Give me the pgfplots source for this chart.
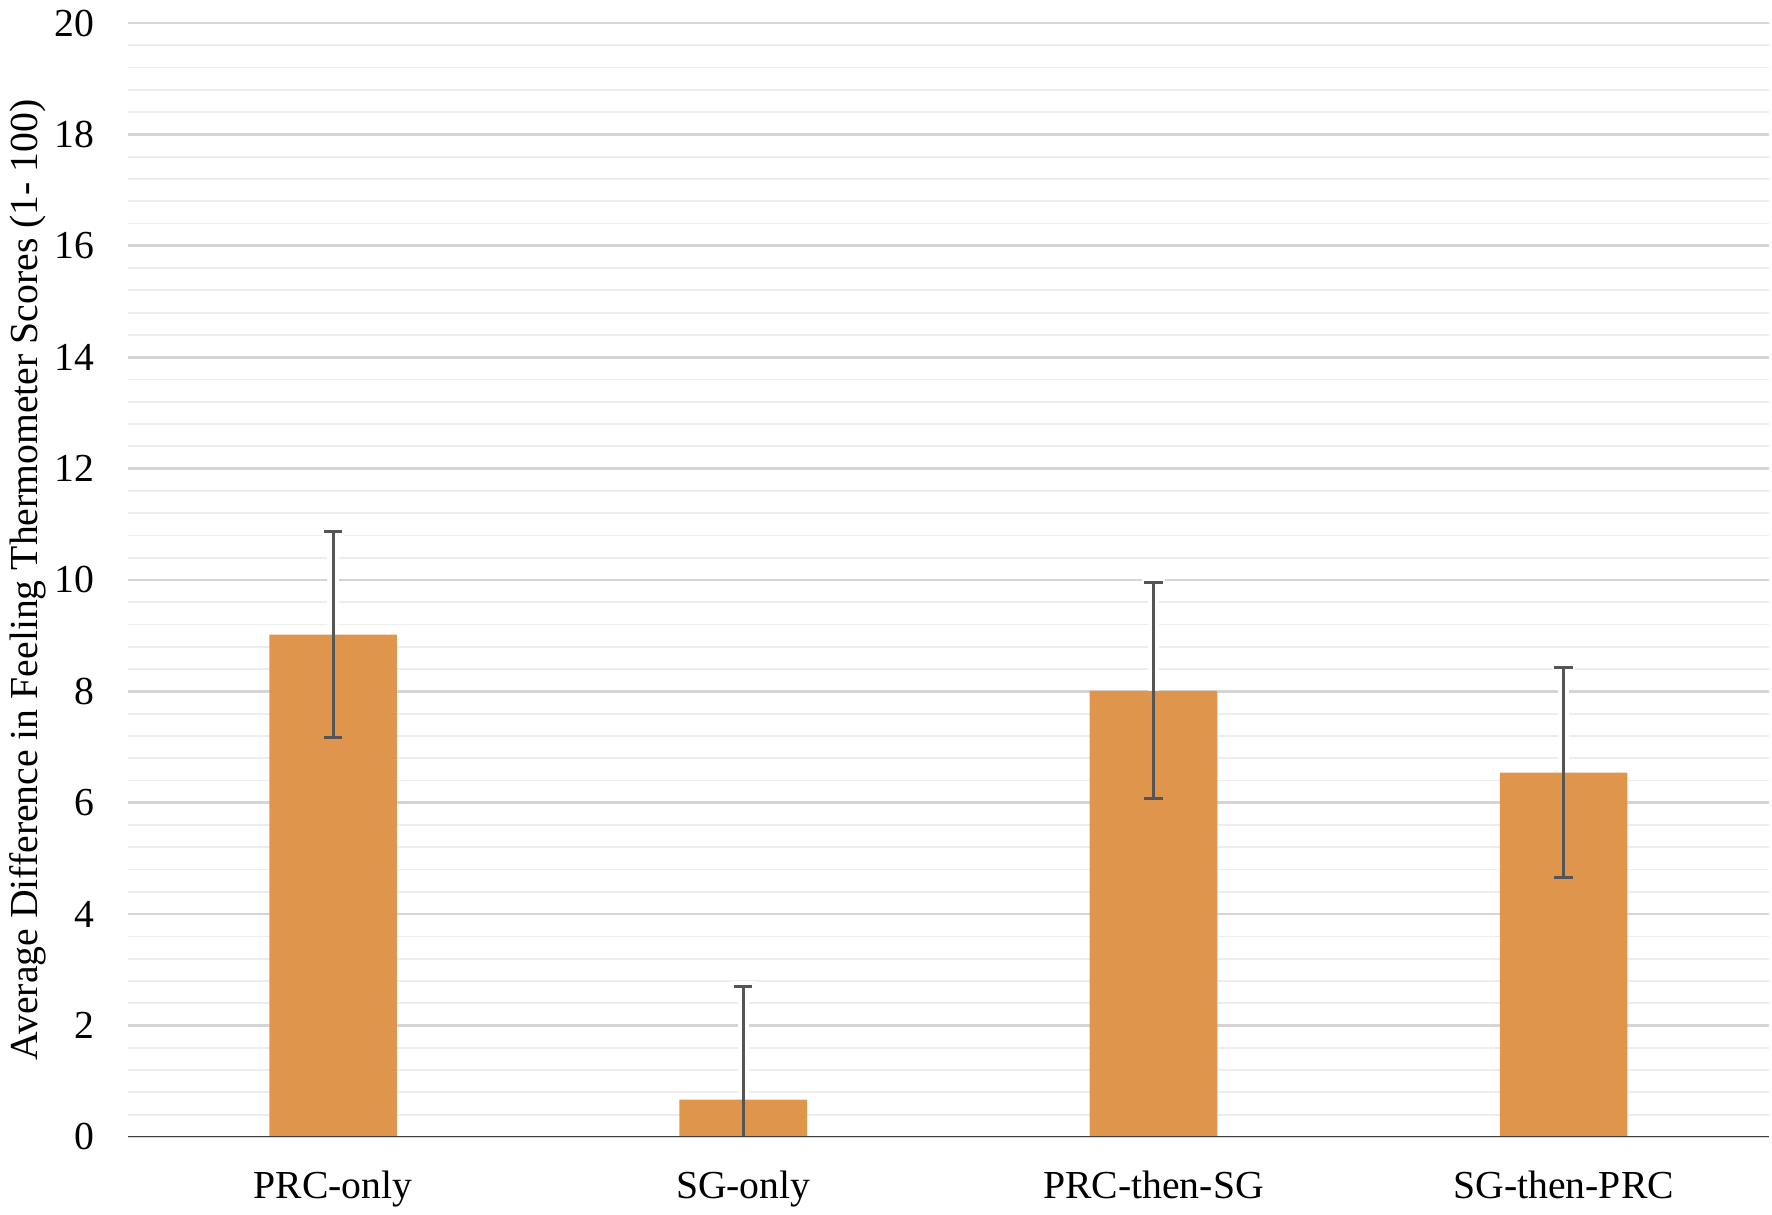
\documentclass[border=0pt]{standalone}
\usepackage{fontspec}
\setmainfont{Liberation Serif}
\usepackage{pgfplots}
\pgfplotsset{compat=1.18}
\definecolor{barorange}{HTML}{E0954C}
\definecolor{errgray}{HTML}{555555}
\definecolor{majgrid}{HTML}{D5D5D5}
\definecolor{mingrid}{HTML}{EDEDED}
\definecolor{axisgray}{HTML}{404040}
\begin{document}
\begin{tikzpicture}
\path[use as bounding box] (-36.1pt,-22pt) rectangle (463.9pt,320.8pt);
\begin{axis}[
  at={(0,0)}, anchor=south west,
  scale only axis, width=463pt, height=314.3pt,
  xmin=-0.5, xmax=3.5, ymin=0, ymax=20,
  xtick={0,1,2,3},
  xticklabels={PRC-only,SG-only,PRC-then-SG,SG-then-PRC},
  ytick={0,2,...,20}, minor y tick num=4,
  ymajorgrids, yminorgrids,
  major grid style={majgrid, line width=0.75pt},
  minor grid style={mingrid, line width=0.5pt},
  axis line style={draw=none},
  tick style={draw=none},
  font=\fontsize{11.2}{13}\selectfont,
  /pgf/number format/assume math mode=true,
  yticklabel style={xshift=-6pt},
  xticklabel style={yshift=-6.2pt},
  ylabel={Average Difference in Feeling Thermometer Scores (1- 100)},
  ylabel style={at={(axis description cs:-0.055,0.5)}, anchor=base},
]
\addplot[draw=none, mark=none, forget plot,
  error bars/.cd, y dir=both, y explicit,
  error bar style={draw=white, line width=3.2pt},
  error mark options={draw=white, rotate=90, mark size=3.2pt, line width=3.2pt}]
  coordinates {(0,9.02) +- (0,1.85) (1,0.67) +- (0,2.03) (2,8.01) +- (0,1.94) (3,6.54) +- (0,1.88)};
\addplot[ybar, mark=none, bar width=36pt, bar shift=0pt, fill=barorange, draw=none,
  error bars/.cd, y dir=both, y explicit,
  error bar style={draw=errgray, line width=0.85pt},
  error mark options={draw=errgray, rotate=90, mark size=2.6pt, line width=0.85pt}]
  coordinates {(0,9.02) +- (0,1.85) (1,0.67) +- (0,2.03) (2,8.01) +- (0,1.94) (3,6.54) +- (0,1.88)};
\draw[axisgray, line width=0.75pt] (rel axis cs:0,0) -- (rel axis cs:1,0);
\end{axis}
\end{tikzpicture}
\end{document}
